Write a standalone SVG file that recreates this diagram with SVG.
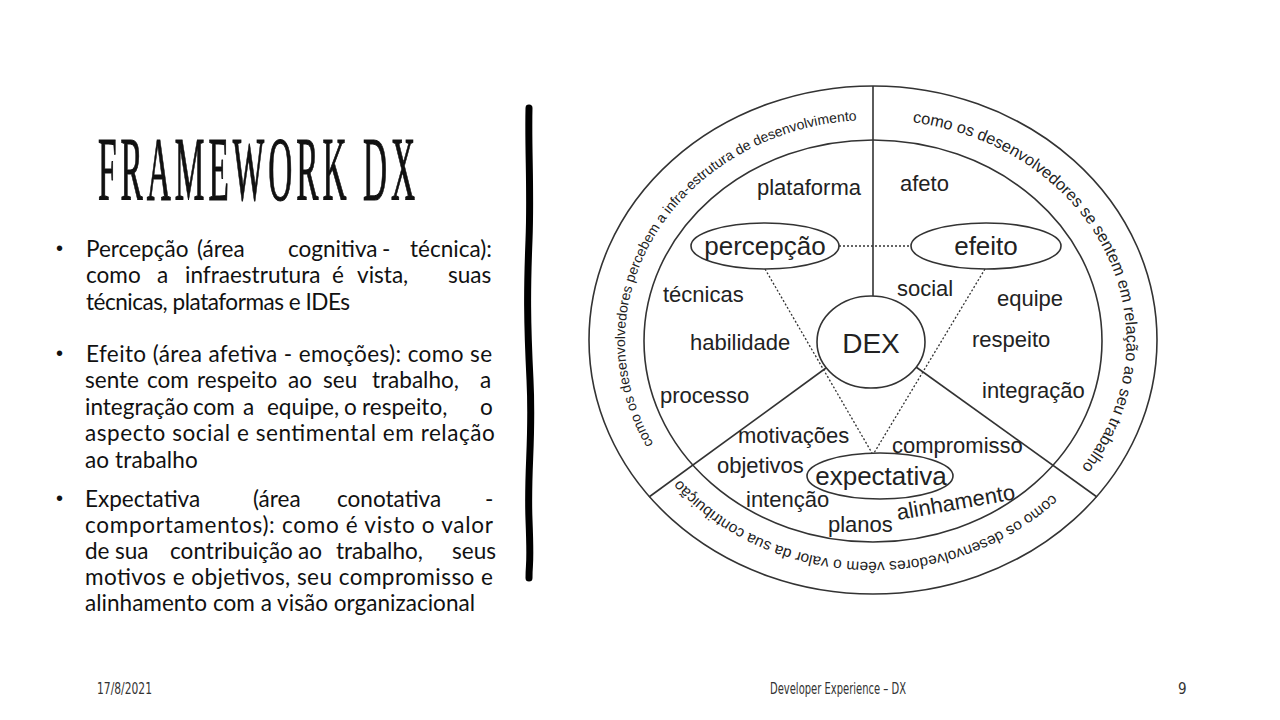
<svg xmlns="http://www.w3.org/2000/svg" width="1280" height="720" viewBox="0 0 1280 720">
  <style>
    .body { font-family: Lato, "Open Sans", "Liberation Sans", sans-serif; font-size: 24px; fill: #111; }
    .bul { font-family: "Liberation Sans", Arial, sans-serif; font-size: 20px; fill: #111; }
    .lbl { font-family: "Liberation Sans", Arial, sans-serif; font-size: 22px; fill: #222; }
    .big { font-family: "Liberation Sans", Arial, sans-serif; font-size: 26px; fill: #222; }
    .ring { font-family: "Liberation Sans", Arial, sans-serif; fill: #222; }
    .ln { fill: none; stroke: #333; stroke-width: 1.6; }
    .dot { fill: none; stroke: #333; stroke-width: 1.3; stroke-dasharray: 2 2; }
    .foot { font-family: "DejaVu Sans Condensed", "DejaVu Sans", sans-serif; font-size: 15px; fill: #333; }
  </style>
  <defs>
    <!-- baseline arcs for the ring captions (clockwise) -->
    <path id="arcLeft" d="M667.4,464.6 A248,221 0 0 1 881.7,120.1"/>
    <path id="arcRight" d="M881.7,120.1 A250,221 0 0 1 1060.7,490.4"/>
    <path id="arcBottom" d="M1068.4,477.1 A248,221 0 0 1 665.0,461.4"/>
  </defs>

  <rect width="1280" height="720" fill="#fff"/>

  <!-- title: narrow serif caps with open tracking -->
  <text transform="translate(98,200) scale(0.37,1)" x="0" y="0" font-family="Liberation Serif, serif" font-size="90" textLength="857" lengthAdjust="spacing" fill="#111" stroke="#111" stroke-width="1.2">FRAMEWORK DX</text>

  <!-- bullet markers -->
  <g id="bullet-marks" class="bul">
    <text x="56" y="255">•</text>
    <text x="56" y="360">•</text>
    <text x="56" y="505">•</text>
  </g>

  <!-- bullet list, set slightly condensed -->
  <g id="bullets" class="body" transform="scale(0.94,1)">
    <text y="257"><tspan x="91.5">Percepção</tspan><tspan x="209.6">(área</tspan><tspan x="306.4">cognitiva</tspan><tspan x="406.4">-</tspan><tspan x="436.2">técnica):</tspan></text>
    <text y="283.5"><tspan x="91.5">como</tspan><tspan x="167">a</tspan><tspan x="196.8">infraestrutura</tspan><tspan x="353.2">é</tspan><tspan x="379.8">vista,</tspan><tspan x="476.6">suas</tspan></text>
    <text x="91.5" y="310" textLength="281" lengthAdjust="spacing">técnicas, plataformas e IDEs</text>

    <text x="91.5" y="362" textLength="432" lengthAdjust="spacing">Efeito (área afetiva - emoções): como se</text>
    <text y="388.5"><tspan x="90.4">sente</tspan><tspan x="156.4">com</tspan><tspan x="209.6">respeito</tspan><tspan x="306.4">ao</tspan><tspan x="343.6">seu</tspan><tspan x="395.7">trabalho,</tspan><tspan x="510.6">a</tspan></text>
    <text y="415"><tspan x="90.4">integração</tspan><tspan x="205.3">com</tspan><tspan x="258.5">a</tspan><tspan x="284">equipe,</tspan><tspan x="366">o</tspan><tspan x="385.1">respeito,</tspan><tspan x="510.6">o</tspan></text>
    <text x="90.4" y="441.5" textLength="436" lengthAdjust="spacing">aspecto social e sentimental em relação</text>
    <text x="90.4" y="468" textLength="120" lengthAdjust="spacing">ao trabalho</text>

    <text y="507"><tspan x="90.4">Expectativa</tspan><tspan x="269.1">(área</tspan><tspan x="358.5">conotativa</tspan><tspan x="516">-</tspan></text>
    <text x="90.4" y="533" textLength="434" lengthAdjust="spacing">comportamentos): como é visto o valor</text>
    <text y="559"><tspan x="90.4">de</tspan><tspan x="122.3">sua</tspan><tspan x="180.9">contribuição</tspan><tspan x="317">ao</tspan><tspan x="357.4">trabalho,</tspan><tspan x="480.9">seus</tspan></text>
    <text x="90.4" y="585" textLength="434" lengthAdjust="spacing">motivos e objetivos, seu compromisso e</text>
    <text x="90.4" y="611" textLength="415" lengthAdjust="spacing">alinhamento com a visão organizacional</text>
  </g>

  <!-- hand-drawn divider -->
  <path d="M529,108 C528,150 531,190 529,240 S527,320 530,380 S527,470 529,520 S529,560 529,578" fill="none" stroke="#000" stroke-width="7" stroke-linecap="round"/>

  <!-- rings -->
  <g id="rings">
    <ellipse class="ln" cx="873" cy="340" rx="284" ry="254"/>
    <ellipse class="ln" cx="873" cy="341" rx="229" ry="201"/>
  </g>

  <!-- sector dividers and dotted links -->
  <g id="connectors">
    <line class="ln" x1="873" y1="86" x2="873" y2="296"/>
    <line class="ln" x1="826" y1="368" x2="649" y2="497"/>
    <line class="ln" x1="916" y1="367" x2="1097" y2="497"/>
    <line class="dot" x1="839" y1="246" x2="911" y2="246"/>
    <line class="dot" x1="765" y1="269" x2="872" y2="453"/>
    <line class="dot" x1="985" y1="269" x2="874" y2="453"/>
  </g>

  <g id="dex">
    <ellipse cx="871" cy="342" rx="54" ry="46" fill="#fff" stroke="#333" stroke-width="1.6"/>
    <text x="871" y="353" text-anchor="middle" font-family="Liberation Sans, Arial, sans-serif" font-size="28" fill="#222">DEX</text>
  </g>
  <g id="percepcao">
    <ellipse cx="765" cy="246" rx="74" ry="23" fill="#fff" stroke="#333" stroke-width="1.6"/>
    <text class="big" x="765" y="255" text-anchor="middle">percepção</text>
  </g>
  <g id="efeito">
    <ellipse cx="986" cy="246" rx="75" ry="23" fill="#fff" stroke="#333" stroke-width="1.6"/>
    <text class="big" x="986" y="255" text-anchor="middle">efeito</text>
  </g>
  <g id="expectativa">
    <ellipse cx="880" cy="476" rx="73" ry="23" fill="#fff" stroke="#333" stroke-width="1.6"/>
    <text class="big" x="881" y="485" text-anchor="middle">expectativa</text>
  </g>

  <!-- sector vocabulary -->
  <g id="terms" class="lbl">
    <text x="757" y="195">plataforma</text>
    <text x="663" y="302">técnicas</text>
    <text x="690" y="350">habilidade</text>
    <text x="660" y="403">processo</text>
    <text x="900" y="191">afeto</text>
    <text x="897" y="296">social</text>
    <text x="997" y="306">equipe</text>
    <text x="972" y="347">respeito</text>
    <text x="982" y="398">integração</text>
    <text x="738" y="443">motivações</text>
    <text x="892" y="453">compromisso</text>
    <text x="717" y="473">objetivos</text>
    <text x="746" y="507">intenção</text>
    <text x="828" y="532">planos</text>
    <text x="898" y="520" transform="rotate(-10 898 520)">alinhamento</text>
  </g>

  <!-- ring captions -->
  <g id="ring-captions" class="ring">
    <text font-size="14"><textPath href="#arcLeft" startOffset="50%" text-anchor="middle">como os desenvolvedores percebem a infra-estrutura de desenvolvimento</textPath></text>
    <text font-size="16.3"><textPath href="#arcRight" startOffset="50%" text-anchor="middle">como os desenvolvedores se sentem em relação ao seu trabalho</textPath></text>
    <text font-size="15.5"><textPath href="#arcBottom" startOffset="50%" text-anchor="middle">como os desenvolvedores vêem o valor da sua contribuição</textPath></text>
  </g>

  <!-- footer -->
  <g id="footer" class="foot">
    <text x="97" y="694" textLength="55" lengthAdjust="spacingAndGlyphs">17/8/2021</text>
    <text x="770" y="694" textLength="136" lengthAdjust="spacingAndGlyphs">Developer Experience – DX</text>
    <text x="1178" y="694">9</text>
  </g>
</svg>
